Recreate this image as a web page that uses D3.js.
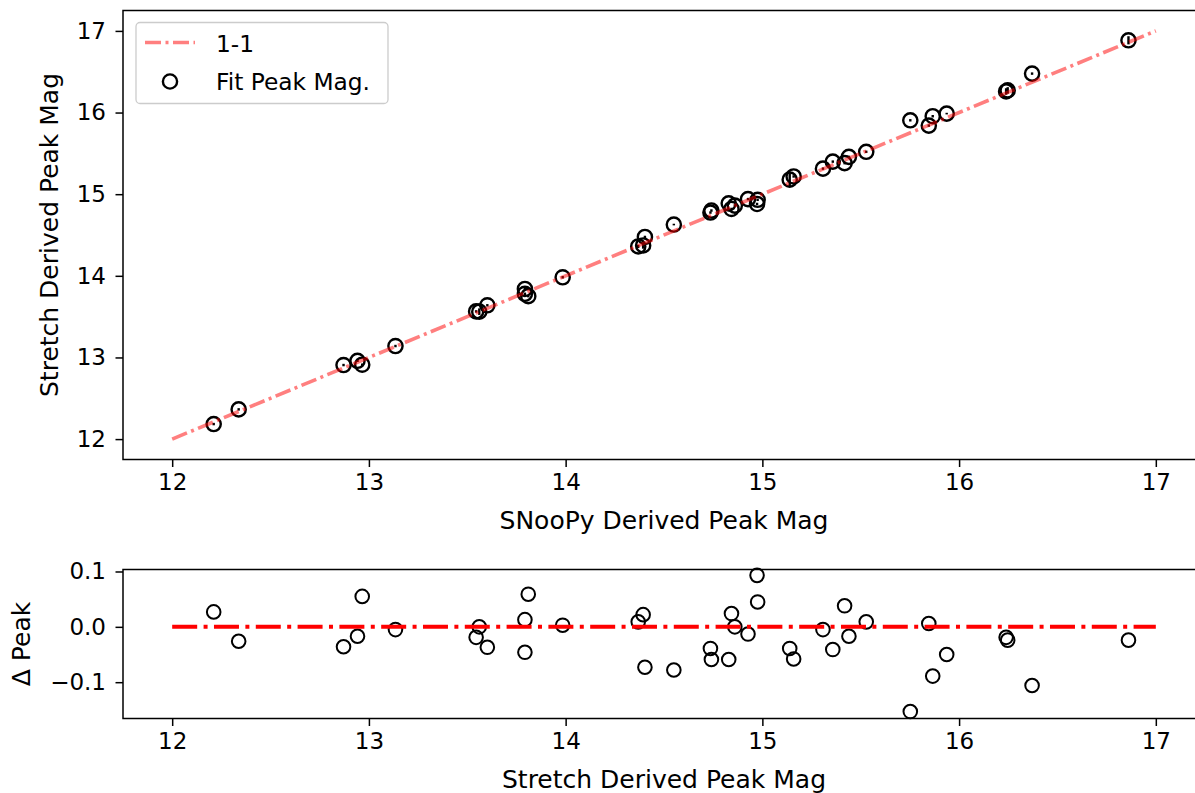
<!DOCTYPE html>
<html>
<head>
<meta charset="utf-8">
<script src="https://cdn.jsdelivr.net/npm/d3@7"></script>
<style>
  html, body { margin: 0; padding: 0; background: #fff; }
  svg { display: block; }
  text { font-family: "DejaVu Sans", sans-serif; fill: #000; }
</style>
</head>
<body>
<script>
// ---- data ----
const snoopyPeak = [12.211, 12.338, 12.871, 12.942, 12.966, 13.135, 13.561, 13.545, 13.602, 13.810,
  13.793, 13.793, 13.985, 14.369, 14.394, 14.403, 14.550, 14.736, 14.741, 14.829,
  14.843, 14.860, 14.927, 14.973, 14.976, 15.139, 15.159, 15.308, 15.358, 15.418,
  15.440, 15.528, 15.752, 15.846, 15.866, 15.937, 16.239, 16.247, 16.371, 16.861];
const stretchPeak = [12.184, 12.364, 12.907, 12.959, 12.911, 13.140, 13.561, 13.564, 13.639, 13.751,
  13.780, 13.839, 13.982, 14.360, 14.372, 14.476, 14.628, 14.775, 14.800, 14.888,
  14.819, 14.860, 14.940, 14.880, 14.931, 15.178, 15.217, 15.313, 15.399, 15.380,
  15.457, 15.519, 15.905, 15.840, 15.955, 15.987, 16.258, 16.271, 16.477, 16.885];
const peakErr = [0.015, 0.015, 0.015, 0.015, 0.015, 0.015, 0.04, 0.015, 0.015, 0.015,
  0.015, 0.015, 0.015, 0.02, 0.04, 0.015, 0.01, 0.015, 0.015, 0.015,
  0.015, 0.015, 0.015, 0.015, 0.015, 0.08, 0.015, 0.015, 0.015, 0.015,
  0.015, 0.015, 0.015, 0.015, 0.015, 0.01, 0.04, 0.04, 0.015, 0.05];
const deltaPeak = [0.027, -0.026, -0.036, -0.017, 0.055, -0.005, 0.000, -0.019, -0.037, 0.059,
  0.013, -0.046, 0.003, 0.009, 0.022, -0.073, -0.078, -0.039, -0.059, -0.059,
  0.024, 0.000, -0.013, 0.093, 0.045, -0.039, -0.058, -0.005, -0.041, 0.038,
  -0.017, 0.009, -0.153, 0.006, -0.089, -0.050, -0.019, -0.024, -0.106, -0.024];
const oneToOne = [12, 17];
const magTicks = [12, 13, 14, 15, 16, 17];
const deltaTicks = [-0.1, 0.0, 0.1];

const W = 1195, H = 793;
const TICK_FS = 23;
const LABEL_FS = 25;
const LEG_FS = 23.3;

const svg = d3.select("body").append("svg").attr("width", W).attr("height", H);

// ---- top panel ----
const topBox = { left: 123, right: 1205, top: 10.5, bottom: 459.5 };
const x = d3.scaleLinear().domain([11.75, 17.25]).range([topBox.left, topBox.right]);
const y = d3.scaleLinear().domain([11.75, 17.25]).range([topBox.bottom, topBox.top]);

const gTop = svg.append("g");
// error bars
gTop.append("g").selectAll("line").data(snoopyPeak).join("line")
  .attr("x1", (d) => x(d)).attr("x2", (d) => x(d))
  .attr("y1", (d, i) => y(stretchPeak[i] - peakErr[i]))
  .attr("y2", (d, i) => y(stretchPeak[i] + peakErr[i]))
  .attr("stroke", "#000").attr("stroke-width", 2.4);
// circles
gTop.append("g").selectAll("circle").data(snoopyPeak).join("circle")
  .attr("cx", (d) => x(d)).attr("cy", (d, i) => y(stretchPeak[i]))
  .attr("r", 7.1).attr("fill", "none").attr("stroke", "#000").attr("stroke-width", 2.4);
// 1-1 line
gTop.append("line")
  .attr("x1", x(oneToOne[0])).attr("y1", y(oneToOne[0]))
  .attr("x2", x(oneToOne[1])).attr("y2", y(oneToOne[1]))
  .attr("stroke", "rgba(255,0,0,0.5)").attr("stroke-width", 3.6)
  .attr("stroke-dasharray", "16,4.5,3,4.5");

function styleAxis(g) {
  g.selectAll("path").remove();
  g.selectAll(".tick line").attr("stroke", "#000").attr("stroke-width", 1.5);
  g.selectAll(".tick text").attr("font-size", TICK_FS).attr("font-family", "DejaVu Sans").attr("fill", "#000");
}

const xAxisTop = svg.append("g").attr("transform", `translate(0,${topBox.bottom})`)
  .call(d3.axisBottom(x).tickValues(magTicks).tickFormat(d3.format("d")).tickSize(7.5).tickPadding(7));
styleAxis(xAxisTop);
const yAxisTop = svg.append("g").attr("transform", `translate(${topBox.left},0)`)
  .call(d3.axisLeft(y).tickValues(magTicks).tickFormat(d3.format("d")).tickSize(7.5).tickPadding(9.5));
styleAxis(yAxisTop);

svg.append("rect").attr("x", topBox.left).attr("y", topBox.top)
  .attr("width", topBox.right - topBox.left).attr("height", topBox.bottom - topBox.top)
  .attr("fill", "none").attr("stroke", "#000").attr("stroke-width", 1.5);

const labelCx = (x(11.75) + x(17.25)) / 2;
svg.append("text").attr("x", labelCx).attr("y", 529)
  .attr("text-anchor", "middle").attr("font-size", LABEL_FS).text("SNooPy Derived Peak Mag");
svg.append("text").attr("transform", `translate(58,${(topBox.top + topBox.bottom) / 2}) rotate(-90)`)
  .attr("text-anchor", "middle").attr("font-size", LABEL_FS).text("Stretch Derived Peak Mag");

// legend
const lg = svg.append("g");
lg.append("rect").attr("x", 136).attr("y", 22.5).attr("width", 252).attr("height", 81).attr("rx", 4)
  .attr("fill", "rgba(255,255,255,0.8)").attr("stroke", "#cccccc").attr("stroke-width", 1.3);
lg.append("line").attr("x1", 145).attr("x2", 195).attr("y1", 42.5).attr("y2", 42.5)
  .attr("stroke", "rgba(255,0,0,0.5)").attr("stroke-width", 3.6).attr("stroke-dasharray", "16,4.5,3,4.5");
lg.append("text").attr("x", 216).attr("y", 51.5).attr("font-size", LEG_FS).text("1-1");
lg.append("circle").attr("cx", 170).attr("cy", 81.5).attr("r", 7.1)
  .attr("fill", "none").attr("stroke", "#000").attr("stroke-width", 2.4);
lg.append("text").attr("x", 216).attr("y", 90).attr("font-size", LEG_FS).text("Fit Peak Mag.");

// ---- bottom panel ----
const botBox = { left: 123, right: 1205, top: 569.5, bottom: 718.5 };
const x2 = d3.scaleLinear().domain([11.75, 17.25]).range([botBox.left, botBox.right]);
const y2 = d3.scaleLinear().domain([-0.1656, 0.1036]).range([botBox.bottom, botBox.top]);

svg.append("g").selectAll("circle").data(snoopyPeak).join("circle")
  .attr("cx", (d) => x2(d)).attr("cy", (d, i) => y2(deltaPeak[i]))
  .attr("r", 6.8).attr("fill", "none").attr("stroke", "#000").attr("stroke-width", 2);
svg.append("line")
  .attr("x1", x2(oneToOne[0])).attr("x2", x2(oneToOne[1]))
  .attr("y1", y2(0)).attr("y2", y2(0))
  .attr("stroke", "#ff0000").attr("stroke-width", 4)
  .attr("stroke-dasharray", "25,6.4,4,6.4");

const xAxisBot = svg.append("g").attr("transform", `translate(0,${botBox.bottom})`)
  .call(d3.axisBottom(x2).tickValues(magTicks).tickFormat(d3.format("d")).tickSize(7.5).tickPadding(7));
styleAxis(xAxisBot);
const yAxisBot = svg.append("g").attr("transform", `translate(${botBox.left},0)`)
  .call(d3.axisLeft(y2).tickValues(deltaTicks).tickFormat(d3.format(".1f")).tickSize(7.5).tickPadding(9.5));
styleAxis(yAxisBot);

svg.append("rect").attr("x", botBox.left).attr("y", botBox.top)
  .attr("width", botBox.right - botBox.left).attr("height", botBox.bottom - botBox.top)
  .attr("fill", "none").attr("stroke", "#000").attr("stroke-width", 1.5);

svg.append("text").attr("x", labelCx).attr("y", 788)
  .attr("text-anchor", "middle").attr("font-size", LABEL_FS).text("Stretch Derived Peak Mag");
svg.append("text").attr("transform", `translate(30,${(botBox.top + botBox.bottom) / 2}) rotate(-90)`)
  .attr("text-anchor", "middle").attr("font-size", LABEL_FS).text("Δ Peak");
</script>
</body>
</html>
